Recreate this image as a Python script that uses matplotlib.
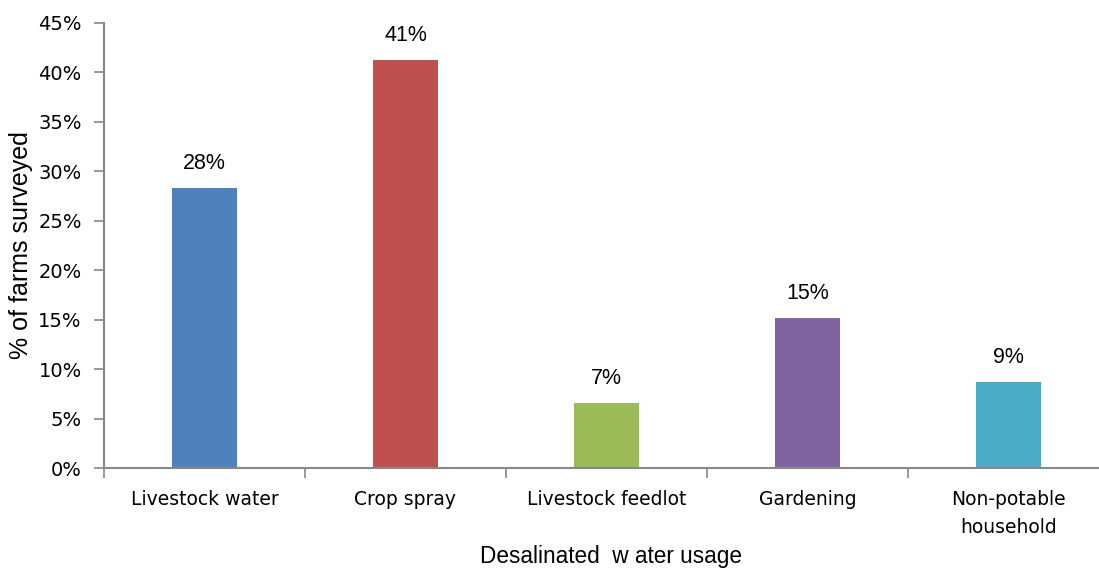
import matplotlib
matplotlib.use("Agg")
import matplotlib.pyplot as plt
from matplotlib.ticker import FuncFormatter, MultipleLocator

categories = ["Livestock water", "Crop spray", "Livestock feedlot", "Gardening", "Non-potable\nhousehold"]
shares = [0.283, 0.413, 0.066, 0.152, 0.087]
colors = ["#4F81BD", "#C0504D", "#9BBB59", "#8064A2", "#4BACC6"]

W, H, DPI = 1099, 569, 100
fig = plt.figure(figsize=(W / DPI, H / DPI), dpi=DPI)
ax = fig.add_axes([104 / W, (H - 468) / H, 1005 / W, 445 / H])

x = list(range(len(categories)))
bars = ax.bar(x, shares, width=0.32, color=colors, zorder=2)

for xi, v in zip(x, shares):
    ax.annotate(f"{v:.0%}", (xi, v), xytext=(0, 10), textcoords="offset points",
                ha="center", va="bottom", fontsize=15.5, family="Liberation Sans")

ax.set_xlim(-0.5, len(categories) - 0.5)
ax.set_ylim(0, 0.45)
ax.yaxis.set_major_locator(MultipleLocator(0.05))
ax.yaxis.set_major_formatter(FuncFormatter(lambda v, p: f"{v * 100:.0f}%"))

ax.set_xticks(x)
ax.set_xticklabels(categories, fontsize=13.5, family="DejaVu Sans", linespacing=1.6)
ax.set_xticks([i - 0.5 for i in range(len(categories) + 1)], minor=True)
ax.tick_params(axis="x", which="major", length=0, pad=16)
ax.tick_params(axis="x", which="minor", length=7, width=1.2, color="#888888", direction="out")
ax.tick_params(axis="y", length=7, width=1.2, color="#888888", direction="out", labelsize=14, pad=9)
for lab in ax.get_yticklabels():
    lab.set_family("DejaVu Sans")

for s in ["top", "right"]:
    ax.spines[s].set_visible(False)
for s in ["left", "bottom"]:
    ax.spines[s].set_color("#888888")
    ax.spines[s].set_linewidth(1.5)

ax.set_ylabel("% of farms surveyed", fontsize=18, family="Liberation Sans", labelpad=4)
fig.text(611 / W, 1 - 556 / H, "Desalinated  w ater usage", fontsize=16.3,
         family="Liberation Sans", ha="center", va="center")

fig.savefig("out.png", dpi=DPI)
